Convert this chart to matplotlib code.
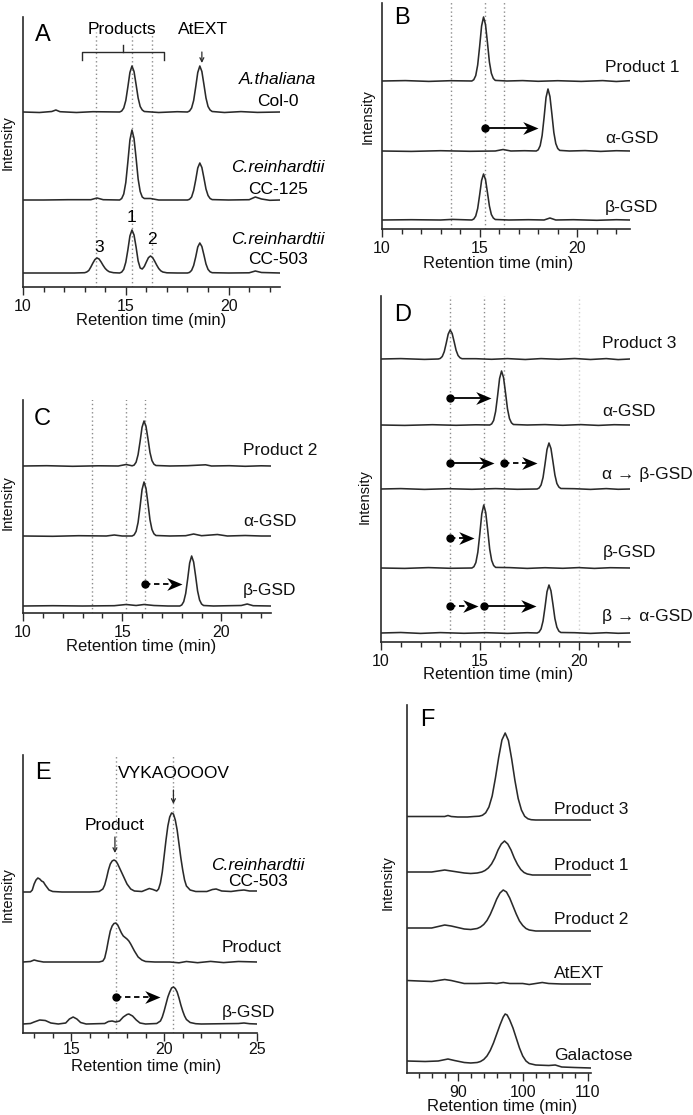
import matplotlib
matplotlib.use("Agg")
import matplotlib.pyplot as plt
from matplotlib.path import Path
from matplotlib.ticker import MultipleLocator

plt.rcParams["font.family"] = ["Liberation Sans", "DejaVu Sans"]

W, H = 693, 1115
INK = "#2a2a2a"
DOT = "#8c8c8c"

# ---- panel A : HPLC traces (retention time, min / signal above baseline) ----
a_col0_t = [10.0, 10.8, 11.4, 11.6, 11.8, 12.6, 13.4, 14.7, 14.8, 14.9, 15.0, 15.1, 15.2, 15.3,
            15.4, 15.5, 15.6, 15.7, 15.8, 15.9, 16.6, 17.5, 18.0, 18.1, 18.2, 18.3, 18.4, 18.5,
            18.6, 18.7, 18.8, 18.9, 19.0, 19.1, 19.2, 19.8, 20.6, 21.4, 22.5]
a_col0_y = [0, -0.5, 0.5, 2, 0.3, -0.5, 0.3, 0, 1, 4, 11.5, 25, 39.5, 46,
            40.5, 27.5, 14, 5.5, 2, 0.5, -0.5, 0.3, 0, 1, 4, 11.5, 25, 39.5,
            46, 40.5, 27.5, 14, 5.5, 2, 0.5, -0.5, 0.4, -0.4, 0]
a_cc125_t = [10.0, 11.0, 12.2, 13.3, 13.6, 13.9, 14.7, 14.8, 14.9, 15.0, 15.1, 15.2, 15.3, 15.4,
             15.5, 15.6, 15.7, 15.8, 15.9, 16.2, 16.6, 17.5, 18.0, 18.1, 18.2, 18.3, 18.4, 18.5,
             18.6, 18.7, 18.8, 18.9, 19.0, 19.1, 19.2, 20.0, 21.0, 21.3, 21.6, 22.0, 22.5]
a_cc125_y = [0, 0, 0.3, 0.3, 2, 0.3, 0, 1.5, 6, 17.5, 38, 60, 70, 61.5,
             42, 21, 8.5, 3, 1.5, 1.5, 0, 0, 0, 0.7, 3, 9.5, 20, 32,
             37, 32.5, 22, 11, 4.5, 1.5, 0.4, 0, 0.3, 3, 1, -0.3, 0]
a_cc503_t = [10.0, 11.5, 12.5, 13.0, 13.1, 13.2, 13.3, 13.4, 13.5, 13.6, 13.7, 13.8, 13.9, 14.0,
             14.1, 14.2, 14.4, 14.7, 14.8, 14.9, 15.0, 15.1, 15.2, 15.3, 15.4, 15.5, 15.6, 15.7,
             15.8, 15.9, 16.0, 16.1, 16.2, 16.3, 16.4, 16.5, 16.6, 16.7, 16.8, 17.0, 17.5, 18.0,
             18.1, 18.2, 18.3, 18.4, 18.5, 18.6, 18.7, 18.8, 18.9, 19.0, 19.1, 19.2, 20.0, 21.0,
             21.3, 21.6, 22.5]
a_cc503_y = [0, 0, 0, 0.3, 1, 2.5, 6, 10, 13.5, 15, 14, 11, 7.5, 4.5,
             2.5, 1.2, 0.3, 0, 0.9, 3.7, 10.8, 23, 37, 43, 38, 26, 12, 5,
             4, 6.5, 11, 15.3, 17, 15.5, 12, 8, 4.5, 2.2, 1, 0.2, 0, 0,
             0.6, 2.6, 7.5, 16, 26, 30, 26.5, 18, 9, 3.6, 1.2, 0.3, 0, 0.2,
             2, 0.5, 0]

# ---- panel B ----
b_p1_t = [10.0, 11.2, 12.4, 13.5, 14.6, 14.7, 14.8, 14.9, 15.0, 15.1, 15.2, 15.3, 15.4, 15.5,
          15.6, 15.7, 15.8, 16.4, 17.2, 18.0, 19.0, 20.2, 21.3, 22.0, 22.7]
b_p1_y = [0, 0.4, -0.4, 0.3, 0, 1.3, 5.4, 16, 34.5, 55, 64, 56.5, 38.5, 19,
          7.7, 2.6, 0.6, 0, 0.4, -0.3, 0.3, -0.4, 0.4, -0.5, 0.3]
b_a_t = [10.0, 11.5, 13.0, 14.5, 15.8, 16.2, 16.6, 17.3, 17.9, 18.0, 18.1, 18.2, 18.3, 18.4,
         18.5, 18.6, 18.7, 18.8, 18.9, 19.0, 19.1, 19.6, 20.4, 21.2, 22.0, 22.7]
b_a_y = [0, -0.4, 0.3, -0.3, 0, 1.5, 0, 0.3, 0, 1.2, 5.3, 15.5, 33.5, 53.5,
         62, 54.5, 37, 18.5, 7.4, 2.5, 0.6, 0, 0.4, -0.4, 0.3, 0]
b_b_t = [10.0, 11.5, 13.0, 13.6, 14.6, 14.7, 14.8, 14.9, 15.0, 15.1, 15.2, 15.3, 15.4, 15.5,
         15.6, 15.7, 15.8, 16.5, 17.5, 18.3, 18.6, 18.9, 19.8, 21.0, 22.0, 22.7]
b_b_y = [0, 0.3, 0, 0.6, 0, 1, 4, 11.5, 25, 39.5, 46, 40.5, 27.5, 14,
         5.5, 2, 0.5, 0, 0.3, 0, 2, 0, 0.3, -0.3, 0.3, 0]

# ---- panel C ----
c_p2_t = [10.0, 11.2, 12.5, 13.8, 14.8, 15.2, 15.5, 15.6, 15.7, 15.8, 15.9, 16.0, 16.1, 16.2,
          16.3, 16.4, 16.5, 16.6, 16.7, 17.4, 18.3, 19.2, 19.5, 20.4, 21.2, 22.0, 22.5]
c_p2_y = [0, 0.3, -0.3, 0.2, 0, 1.5, 0.2, 0.9, 3.8, 11.3, 24.3, 38.7, 45, 39.6,
          27, 13.5, 5.4, 1.8, 0.5, 0, 0.3, 1.2, 0, 0.3, -0.3, 0.2, 0]
c_a_t = [10.0, 11.5, 12.8, 14.2, 14.6, 15.0, 15.5, 15.6, 15.7, 15.8, 15.9, 16.0, 16.1, 16.2,
         16.3, 16.4, 16.5, 16.6, 16.7, 17.4, 18.2, 18.6, 19.0, 19.8, 20.3, 21.2, 22.0, 22.5]
c_a_y = [0, -0.3, 0.3, 0, 1, 0, 0, 1.1, 4.6, 13.5, 29.2, 46.4, 54, 47.5,
         32.4, 16.2, 6.5, 2.2, 0.5, 0, 0.3, 2, 0.3, 1.5, 0, 0.5, 0, 0]
c_b_t = [10.0, 11.5, 13.0, 14.6, 15.2, 15.7, 16.1, 16.6, 17.3, 17.9, 18.0, 18.1, 18.2, 18.3,
         18.4, 18.5, 18.6, 18.7, 18.8, 18.9, 19.0, 19.1, 19.6, 20.4, 21.0, 21.3, 21.6, 22.5]
c_b_y = [0, 0.3, 0, 0.3, 1.5, 0.5, 1.5, 0.5, 0, 0, 1, 4.3, 12.5, 27,
         43, 50, 44, 30, 15, 6, 2, 0.5, 0, 0.3, 0.5, 2, 0.3, 0]

# ---- panel D ----
d_p3_t = [10.0, 11.0, 12.2, 12.9, 13.0, 13.1, 13.2, 13.3, 13.4, 13.5, 13.6, 13.7, 13.8, 13.9,
          14.0, 14.1, 14.8, 15.6, 16.4, 17.3, 18.1, 19.0, 19.8, 20.6, 21.4, 22.0, 22.6]
d_p3_y = [0, 0.4, -0.4, 0, 0.6, 2.5, 7.3, 15.7, 24.9, 29, 25.5, 17.4, 8.7, 3.5,
          1.2, 0.3, 0.3, -0.3, 0.4, -0.5, 0.4, -0.3, 0.5, -0.5, 0.4, -0.6, 0]
d_a_t = [10.0, 11.2, 12.6, 13.8, 14.8, 15.5, 15.6, 15.7, 15.8, 15.9, 16.0, 16.1, 16.2, 16.3,
         16.4, 16.5, 16.6, 16.7, 17.4, 18.3, 19.2, 20.1, 21.0, 21.8, 22.6]
d_a_y = [0, -0.4, 0.3, -0.3, 0.2, 0, 1.1, 4.6, 13.5, 29.2, 46.4, 54, 47.5, 32.4,
         16.2, 6.5, 2.2, 0.5, 0, 0.4, -0.3, 0.4, -0.4, 0.3, 0]
d_ab_t = [10.0, 11.0, 12.2, 13.4, 14.6, 15.8, 16.9, 17.9, 18.0, 18.1, 18.2, 18.3, 18.4, 18.5,
          18.6, 18.7, 18.8, 18.9, 19.0, 19.1, 19.8, 20.6, 21.4, 22.0, 22.6]
d_ab_y = [0, 0.4, -0.4, 0.3, -0.3, 0.4, -0.3, 0, 1, 4, 11.5, 25, 39.5, 46,
          40.5, 27.5, 14, 5.5, 2, 0.5, 0.3, -0.4, 0.4, -0.3, 0]
d_b_t = [10.0, 11.2, 12.4, 13.5, 14.6, 14.7, 14.8, 14.9, 15.0, 15.1, 15.2, 15.3, 15.4, 15.5,
         15.6, 15.7, 15.8, 16.5, 17.4, 18.3, 19.2, 20.0, 20.8, 21.6, 22.6]
d_b_y = [0, -0.4, 0.4, -0.3, 0, 1.3, 5.4, 15.8, 34, 54.2, 63, 55.4, 37.8, 18.9,
         7.6, 2.5, 0.6, 0.4, -0.4, 0.3, -0.3, 0.4, -0.4, 0.3, 0]
d_ba_t = [10.0, 11.0, 12.0, 13.0, 14.2, 15.3, 16.4, 17.4, 17.9, 18.0, 18.1, 18.2, 18.3, 18.4,
          18.5, 18.6, 18.7, 18.8, 18.9, 19.0, 19.1, 19.8, 20.6, 21.4, 22.0, 22.6]
d_ba_y = [0, 0.5, -0.4, 0.4, -0.3, 0.3, -0.4, 0.3, 0, 1, 4.1, 12, 25.9, 41.3,
          48, 42.2, 28.8, 14.4, 5.8, 1.9, 0.5, 0.3, -0.4, 0.3, -0.3, 0]

# ---- panel E ----
e_cr_t = [12.4, 12.8, 12.9, 13.0, 13.1, 13.2, 13.3, 13.4, 13.5, 13.6, 13.8, 14.0, 14.5, 16.0,
          16.5, 16.7, 16.8, 16.9, 17.0, 17.1, 17.2, 17.3, 17.4, 17.5, 17.6, 17.8, 18.0, 18.2,
          18.4, 18.8, 19.0, 19.2, 19.4, 19.6, 19.7, 19.8, 19.9, 20.0, 20.1, 20.2, 20.3, 20.4,
          20.5, 20.6, 20.7, 20.8, 20.9, 21.0, 21.1, 21.2, 21.4, 21.7, 22.3, 22.6, 22.8, 23.1,
          23.6, 24.0, 24.3, 24.6, 25.0]
e_cr_y = [0, 0, 2, 8, 12, 14, 13, 11, 10, 7, 2, 0.5, 0, 0,
          0.5, 3, 7, 14, 22, 28, 31, 32, 31, 28, 24, 16, 8, 3,
          1, 0.5, 2, 3.5, 2.5, 1, 3, 9, 20, 36, 52, 66, 75, 79,
          78, 72, 62, 48, 34, 22, 12, 6, 2, 0.5, 0.5, 2.5, 3, 1,
          0.5, 1.5, 2, 1, 1]
e_pr_t = [12.4, 12.8, 13.0, 13.2, 13.5, 14.5, 15.5, 16.5, 16.7, 16.8, 16.9, 17.0, 17.1, 17.2,
          17.3, 17.4, 17.5, 17.6, 17.7, 17.8, 17.9, 18.0, 18.1, 18.2, 18.4, 18.6, 18.8, 19.0,
          19.5, 20.3, 20.8, 21.2, 21.8, 22.5, 23.2, 24.0, 25.0]
e_pr_y = [0, 0.5, 2, 1, 0, 0, 0, 0, 1, 4, 12, 22, 31, 36,
          38.5, 39, 37, 33, 29, 26, 24.5, 23, 21, 18, 11, 5, 2, 0.5,
          0, 0, -0.8, 0.5, -0.7, 0.6, -0.6, 0.5, 0]
e_b_t = [12.4, 12.8, 13.0, 13.3, 13.6, 13.9, 14.3, 14.7, 14.9, 15.1, 15.3, 15.5, 15.8, 16.8,
         17.0, 17.2, 17.4, 17.6, 17.8, 18.0, 18.1, 18.3, 18.5, 18.7, 19.0, 19.6, 19.8, 19.9,
         20.0, 20.1, 20.2, 20.3, 20.4, 20.5, 20.6, 20.7, 20.8, 20.9, 21.0, 21.1, 21.2, 21.4,
         21.7, 22.0, 24.0, 24.3, 24.6, 25.0]
e_b_y = [0, 0.5, 2, 4, 3.5, 1, 0, 1, 5, 7, 5, 1.5, 0, 0.5,
         2.5, 3, 2, 3, 7, 9.5, 10, 8, 4, 1, 0, 0.5, 3, 7,
         13, 20, 27, 32, 36, 37, 35.5, 32, 26, 19, 13, 8, 4.5, 1.5,
         0.3, 0, 0.5, 1, 0.3, 0]

# ---- panel F ----
f_p3_t = [82.2, 84.0, 86.0, 88.0, 88.5, 89.0, 90.0, 91.5, 92.5, 93.3, 93.8, 94.3, 94.8, 95.3,
          95.8, 96.3, 96.8, 97.3, 97.8, 98.3, 98.8, 99.3, 99.8, 100.3, 100.8, 101.3, 102.0,
          104.0, 106.0, 108.0, 110.5]
f_p3_y = [3.5, 3.5, 3.5, 3.5, 4.5, 3.5, 3, 3, 3.5, 3.8, 4.7, 7.2, 13, 24,
          42, 62.5, 80, 87, 79.5, 61, 39.5, 21.5, 10, 3.7, 1.2, 0.3, 0,
          0, 0, 0, 0]
f_p1_t = [82.2, 84.0, 86.0, 87.0, 88.0, 89.0, 90.0, 91.0, 92.0, 93.0, 93.7, 94.2, 94.7, 95.2,
          95.7, 96.2, 96.7, 97.2, 97.7, 98.2, 98.7, 99.2, 99.7, 100.2, 100.7, 101.5, 103.0,
          106.0, 110.5]
f_p1_y = [3, 3, 3, 4, 5, 4, 3, 2, 1.5, 2, 3, 4.5, 7, 11,
          17, 25, 31, 34, 31, 25, 17, 10.5, 5.5, 2.5, 1, 0, 0,
          0, 0]
f_p2_t = [82.2, 84.0, 86.0, 87.0, 88.0, 89.0, 90.0, 91.0, 92.0, 93.0, 93.5, 94.0, 94.5, 95.0,
          95.5, 96.0, 96.5, 97.0, 97.5, 98.0, 98.5, 99.0, 99.5, 100.0, 100.5, 101.0, 102.0,
          104.0, 110.5]
f_p2_y = [3, 3, 3, 4.5, 6, 5, 3.5, 2, 1.5, 2.5, 4, 6.5, 10.5, 16.5,
          24, 32, 38, 41, 39, 33, 25, 17, 10, 5.5, 2.5, 1, 0,
          0, 0]
f_at_t = [82.2, 84.0, 86.0, 87.0, 88.0, 89.0, 90.0, 91.0, 93.0, 95.0, 96.0, 97.0, 98.0, 100.0,
          101.0, 102.0, 103.0, 104.0, 106.0, 110.5]
f_at_y = [3.5, 3, 2.5, 3.5, 4.5, 3.5, 2, 0.5, 0.5, 1, 0.5, 1.5, 0.5, 0.5,
          -0.5, 0.5, 1.5, 0.5, 0, 0]
f_gal_t = [82.2, 85.0, 87.0, 88.5, 89.5, 91.0, 92.0, 93.0, 93.5, 94.0, 94.5, 95.0, 95.5, 96.0,
           96.5, 97.0, 97.3, 97.6, 98.0, 98.5, 99.0, 99.5, 100.0, 100.5, 101.0, 102.0, 104.0,
           105.0, 106.0, 108.0, 110.5]
f_gal_y = [7, 6.5, 7, 9, 7.5, 5.5, 5, 5.5, 6.5, 8.5, 12, 17.5, 25, 34,
           43, 51, 54, 53, 48, 40, 30, 20, 12, 7, 4.5, 3, 2.5,
           3, 1, 0.5, 0]

# reference retention times (dotted guides)
guides_abc = [13.55, 15.25, 16.25]
guides_e = [17.4, 20.5]

fig = plt.figure(figsize=(W / 100, H / 100), dpi=100)

HEAD = Path([(0, 0), (-1, 0.42), (-0.7, 0), (-1, -0.42), (0, 0)],
            [Path.MOVETO, Path.LINETO, Path.LINETO, Path.LINETO, Path.CLOSEPOLY])


def panel(x0, x1, ytop, ybot, xlim, major, minor, pad=2.5):
    ax = fig.add_axes([x0 / W, 1 - ybot / H, (x1 - x0) / W, (ybot - ytop) / H])
    ax.set_xlim(*xlim)
    ax.set_ylim(0, ybot - ytop)
    ax.patch.set_alpha(0)
    for s in ("top", "right"):
        ax.spines[s].set_visible(False)
    for s in ("left", "bottom"):
        ax.spines[s].set_color(INK)
        ax.spines[s].set_linewidth(1.2)
    ax.set_yticks([])
    ax.xaxis.set_major_locator(MultipleLocator(major))
    ax.xaxis.set_minor_locator(MultipleLocator(minor))
    ax.tick_params(axis="x", which="major", length=6, width=1, color=INK,
                   labelsize=11.5, pad=pad, labelcolor="#111")
    ax.tick_params(axis="x", which="minor", length=3.5, width=1, color=INK)
    return ax


def traces(ax, series, offsets):
    for (t, y), off in zip(series, offsets):
        ax.plot(t, [v + off for v in y], color=INK, lw=1.15)


def guides(ax, xs, ymax, color=DOT):
    for x in xs:
        ax.plot([x, x], [0, ymax], color=color, lw=1, ls=(0, (1, 2)), zorder=0)


def arrow(ax, x0, x1, y, dashed=False):
    ax.plot([x0, x1 - 0.35], [y, y], color="k", lw=1.3,
            ls=(0, (3, 2)) if dashed else "-", solid_capstyle="butt")
    ax.plot([x0], [y], "o", ms=5, color="k")
    ax.plot([x1], [y], marker=HEAD, ms=22, color="k", mew=0, ls="none")


def down(ax, x, y0, y1):
    ax.annotate("", xy=(x, y1), xytext=(x, y0), annotation_clip=False,
                arrowprops=dict(arrowstyle="->", color=INK, lw=0.9,
                                shrinkA=0, shrinkB=0, mutation_scale=7))


def labels(ax, x, items, ha="left"):
    for txt, y in items:
        ax.text(x, y, txt, fontsize=12.5, ha=ha, va="center", color="#111")


def axis_text(px, py, txt, rot=0, size=12):
    fig.text(px / W, 1 - py / H, txt, fontsize=size, rotation=rot,
             ha="center", va="center", color="#111")


# ---- A ----
ax = panel(23, 280, 17, 287, (10, 22.5), 5, 1)
guides(ax, [13.55, 15.3, 16.25], 255)
traces(ax, [(a_col0_t, a_col0_y), (a_cc125_t, a_cc125_y), (a_cc503_t, a_cc503_y)], [175, 87, 14])
ax.text(10.97, 252, "A", fontsize=17, ha="center", va="center")
ax.text(14.82, 258, "Products", fontsize=12.5, ha="center", va="center")
ax.text(18.75, 258, "AtEXT", fontsize=12.5, ha="center", va="center")
ax.plot([12.86, 12.86, 16.84, 16.84], [227, 235, 235, 227], color=INK, lw=1)
ax.plot([14.85, 14.85], [235, 242], color=INK, lw=1)
down(ax, 18.7, 235, 224)
for txt, x, y in [("1", 15.3, 69), ("3", 13.7, 40), ("2", 16.25, 47)]:
    ax.text(x, y, txt, fontsize=12.5, ha="center", va="center")
for txt, y, it in [("A.thaliana", 207, True), ("Col-0", 186, False),
                   ("C.reinhardtii", 119, True), ("CC-125", 98, False),
                   ("C.reinhardtii", 48, True), ("CC-503", 27, False)]:
    ax.text(22.4, y, txt, fontsize=12.5, ha="center", va="center",
            style="italic" if it else "normal")
axis_text(8, 143, "Intensity", 90, 10.5)
axis_text(151, 321, "Retention time (min)")

# ---- B ----
ax = panel(382, 630, 3, 229, (10, 22.7), 5, 1)
guides(ax, guides_abc, 229)
traces(ax, [(b_p1_t, b_p1_y), (b_a_t, b_a_y), (b_b_t, b_b_y)], [148, 78, 9])
ax.text(11.02, 211, "B", fontsize=17, ha="center", va="center")
arrow(ax, 15.25, 18.0, 101)
labels(ax, 21.42, [("Product 1", 161), ("α-GSD", 91), ("β-GSD", 22)])
axis_text(368, 117, "Intensity", 90, 10.5)
axis_text(498, 263, "Retention time (min)")

# ---- C ----
ax = panel(23, 271, 400, 613, (10, 22.5), 5, 1)
guides(ax, [13.5, 15.2, 16.15], 215)
traces(ax, [(c_p2_t, c_p2_y), (c_a_t, c_a_y), (c_b_t, c_b_y)], [147, 77, 7])
ax.text(10.97, 194, "C", fontsize=17, ha="center", va="center")
arrow(ax, 16.15, 18.0, 29, dashed=True)
labels(ax, 21.1, [("Product 2", 162), ("α-GSD", 91), ("β-GSD", 22)])
axis_text(8, 503, "Intensity", 90, 10.5)
axis_text(141, 646, "Retention time (min)")

# ---- D ----
ax = panel(381, 630, 296, 642, (10, 22.6), 5, 1)
guides(ax, [13.5, 15.2, 16.2], 346)
guides(ax, [20.0], 346, color="#d0d0d0")
traces(ax, [(d_p3_t, d_p3_y), (d_a_t, d_a_y), (d_ab_t, d_ab_y), (d_b_t, d_b_y),
            (d_ba_t, d_ba_y)], [283, 217, 153, 74, 9])
ax.text(11.1, 327, "D", fontsize=17, ha="center", va="center")
arrow(ax, 13.5, 15.55, 244)
arrow(ax, 13.5, 15.7, 179)
arrow(ax, 16.2, 17.9, 179, dashed=True)
arrow(ax, 13.5, 14.7, 104, dashed=True)
arrow(ax, 13.5, 14.9, 36, dashed=True)
arrow(ax, 15.2, 17.85, 36)
labels(ax, 21.2, [("Product 3", 298), ("α-GSD", 230), ("α → β-GSD", 167),
                  ("β-GSD", 89), ("β → α-GSD", 25)])
axis_text(365, 497, "Intensity", 90, 10.5)
axis_text(498, 675, "Retention time (min)")

# ---- E ----
ax = panel(23, 257, 755, 1033, (12.4, 25.0), 5, 1, pad=0.5)
guides(ax, guides_e, 278)
traces(ax, [(e_cr_t, e_cr_y), (e_pr_t, e_pr_y), (e_b_t, e_b_y)], [141, 71, 9])
ax.text(13.5, 260, "E", fontsize=17, ha="center", va="center")
ax.text(20.5, 260, "VYKAOOOOV", fontsize=12.5, ha="center", va="center")
down(ax, 20.5, 243, 229)
ax.text(17.35, 208, "Product", fontsize=12.5, ha="center", va="center")
down(ax, 17.35, 196, 180)
arrow(ax, 17.4, 19.8, 36, dashed=True)
ax.text(25.05, 168, "C.reinhardtii", fontsize=12.5, ha="center", va="center", style="italic")
ax.text(25.05, 152, "CC-503", fontsize=12.5, ha="center", va="center")
labels(ax, 23.1, [("Product", 85), ("β-GSD", 21)])
axis_text(8, 895, "Intensity", 90, 10.5)
axis_text(146, 1066, "Retention time (min)")

# ---- F ----
ax = panel(407, 591, 705, 1073, (82.2, 110.5), 10, 2)
traces(ax, [(f_p3_t, f_p3_y), (f_p1_t, f_p1_y), (f_p2_t, f_p2_y), (f_at_t, f_at_y),
            (f_gal_t, f_gal_y)], [253, 198, 142, 89, 5])
ax.text(85.3, 353, "F", fontsize=17, ha="center", va="center")
labels(ax, 104.8, [("Product 3", 264), ("Product 1", 208), ("Product 2", 153),
                   ("AtEXT", 100), ("Galactose", 18)])
axis_text(388, 883, "Intensity", 90, 10.5)
axis_text(502, 1107, "Retention time (min)")

fig.savefig("out.png", dpi=100)
